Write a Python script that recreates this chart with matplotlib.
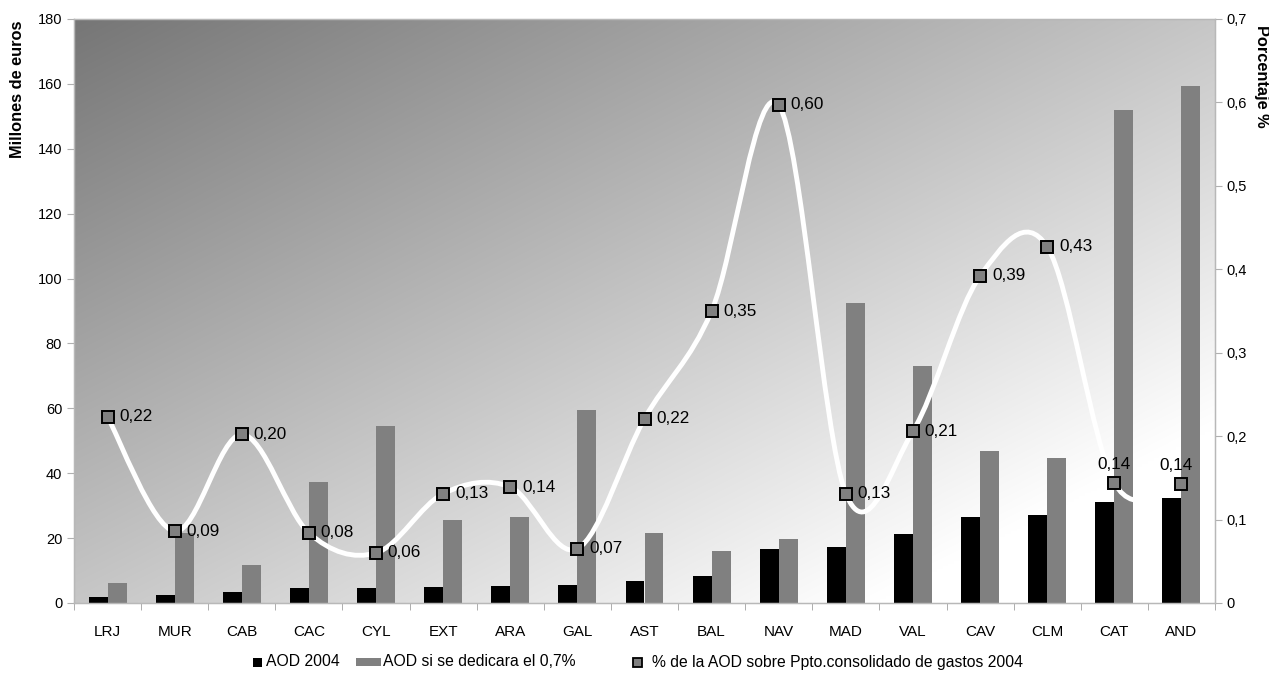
import numpy as np
import matplotlib
matplotlib.use("Agg")
import matplotlib.pyplot as plt
from matplotlib.path import Path
from matplotlib.patches import PathPatch, Rectangle
from matplotlib.ticker import MultipleLocator, FixedLocator, FuncFormatter

plt.rcParams['font.family'] = ['Liberation Sans', 'DejaVu Sans']

categories = ["LRJ", "MUR", "CAB", "CAC", "CYL", "EXT", "ARA", "GAL", "AST",
              "BAL", "NAV", "MAD", "VAL", "CAV", "CLM", "CAT", "AND"]
aod_2004 = [1.9, 2.5, 3.3, 4.5, 4.7, 4.9, 5.3, 5.5, 6.8, 8.2, 16.6, 17.3,
            21.4, 26.5, 27.2, 31.2, 32.5]
aod_07 = [6.3, 21.6, 11.7, 37.2, 54.7, 25.6, 26.6, 59.5, 21.6, 16.0, 19.6,
          92.6, 73.1, 47.0, 44.7, 152.0, 159.2]
pct = [0.223, 0.086, 0.202, 0.084, 0.060, 0.131, 0.139, 0.065, 0.221, 0.350,
       0.597, 0.131, 0.206, 0.392, 0.427, 0.144, 0.143]
legend_labels = ["AOD 2004", "AOD si se dedicara el 0,7%",
                 "% de la AOD sobre Ppto.consolidado de gastos 2004"]

W, H = 1269, 682
fig = plt.figure(figsize=(W / 100, H / 100), dpi=100)
fig.patch.set_facecolor("white")
ax = fig.add_axes([74 / W, 1 - 603 / H, (1215 - 74) / W, (603 - 19) / H])

# background gradient
nx, ny = 400, 200
gx = np.linspace(0, 1, nx)
gy = np.linspace(1, 0, ny)
GX, GY = np.meshgrid(gx, gy)
t = (GX + (1 - GY)) / 2.0
v = 118 + (255 - 118) * np.clip(t / 0.85, 0, 1)
img = np.dstack([v, v, v]) / 255.0
ax.imshow(img, extent=[0, 1, 0, 1], transform=ax.transAxes, aspect="auto",
          zorder=0, interpolation="bilinear")

x = np.arange(len(categories))
bw = 0.283
ax.bar(x - bw / 2, aod_2004, width=bw, color="black", zorder=2)
ax.bar(x + bw / 2, aod_07, width=bw, color="#808080", zorder=2)

ax.set_xlim(-0.5, len(categories) - 0.5)
ax.set_ylim(0, 180)
ax.yaxis.set_major_locator(MultipleLocator(20))
ax.set_xticks(x)
ax.set_xticklabels(categories)
ax.xaxis.set_minor_locator(FixedLocator(np.arange(-0.5, len(categories), 1.0)))
ax.tick_params(axis="x", which="major", length=0, pad=16, labelsize=11)
ax.tick_params(axis="x", which="minor", length=5, color="#a0a0a0", direction="out")
ax.tick_params(axis="y", length=5, color="#b0b0b0", labelsize=10.5)
for s in ax.spines.values():
    s.set_color("#b8b8b8")
    s.set_linewidth(1)

ax2 = ax.twinx()
ax2.set_ylim(0, 0.7)
ax2.yaxis.set_major_locator(MultipleLocator(0.1))
ax2.yaxis.set_major_formatter(FuncFormatter(lambda v, p: ("%g" % round(v, 2)).replace(".", ",")))
ax2.tick_params(axis="y", length=5, color="#b0b0b0", labelsize=10.5)
for s in ax2.spines.values():
    s.set_color("#b8b8b8")

fig.text(17.5 / W, 1 - 21 / H, "Millones de euros", rotation=90, ha="center",
         va="top", fontsize=11.8, fontweight="bold")
fig.text(1261 / W, 1 - 25 / H, "Porcentaje %", rotation=-90, ha="center",
         va="top", fontsize=11.8, fontweight="bold")

# smooth line (Catmull-Rom style bezier)
pts = np.column_stack([x, pct]).astype(float)
n = len(pts)
verts = [tuple(pts[0])]
codes = [Path.MOVETO]
for i in range(n - 1):
    p0 = pts[i - 1] if i > 0 else pts[i]
    p1 = pts[i]
    p2 = pts[i + 1]
    p3 = pts[i + 2] if i + 2 < n else pts[i + 1]
    c1 = p1 + (p2 - p0) / 6.0
    c2 = p2 - (p3 - p1) / 6.0
    verts += [tuple(c1), tuple(c2), tuple(p2)]
    codes += [Path.CURVE4] * 3
ax2.add_patch(PathPatch(Path(verts, codes), fill=False, edgecolor="white",
                        lw=3.5, zorder=3, capstyle="round"))
ax2.plot(x, pct, linestyle="none", marker="s", markersize=8,
         markerfacecolor="#808080", markeredgecolor="black",
         markeredgewidth=1.4, zorder=4)

for i, (xi, p) in enumerate(zip(x, pct)):
    lab = ("%.2f" % p).replace(".", ",")
    if categories[i] in ("CAT", "AND"):
        ax2.annotate(lab, (xi, p), xytext=(-4 if categories[i] == "AND" else 0, 8),
                     textcoords="offset points", ha="center", va="bottom",
                     fontsize=12.3, zorder=5)
    else:
        ax2.annotate(lab, (xi, p), xytext=(8.5, 0), textcoords="offset points",
                     ha="left", va="center", fontsize=12.3, zorder=5)

# legend drawn in figure pixel coordinates
yc = 662
def fx(px):
    return px / W
def fy(py):
    return 1 - py / H
fig.patches.append(Rectangle((fx(253), fy(yc + 4.5)), 9 / W, 9 / H,
                             transform=fig.transFigure, facecolor="black",
                             edgecolor="none"))
fig.text(fx(266), fy(yc), legend_labels[0], ha="left", va="center", fontsize=11.3)
fig.patches.append(Rectangle((fx(356), fy(yc + 4)), 25 / W, 8 / H,
                             transform=fig.transFigure, facecolor="#808080",
                             edgecolor="none"))
fig.text(fx(383), fy(yc), legend_labels[1], ha="left", va="center", fontsize=11.3)
fig.patches.append(Rectangle((fx(633), fy(yc + 4.5)), 9 / W, 9 / H,
                             transform=fig.transFigure, facecolor="#808080",
                             edgecolor="black", linewidth=1.3))
fig.text(fx(652), fy(yc), legend_labels[2], ha="left", va="center", fontsize=11.3)

fig.savefig("out.png", dpi=100)
